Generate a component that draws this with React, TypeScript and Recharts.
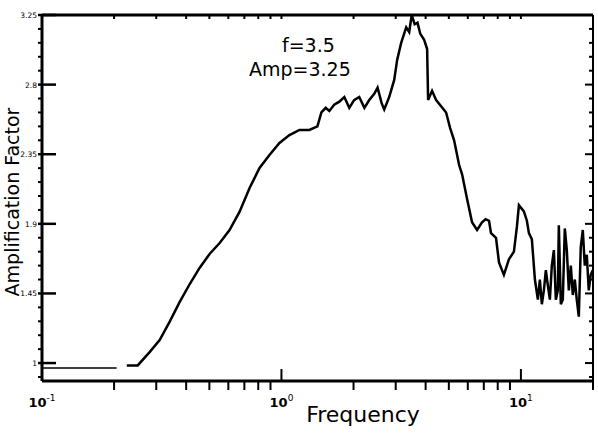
import React from 'react';
import { LineChart, Line, XAxis, YAxis } from 'recharts';

// frequency (Hz) and amplification
const baseFreq = [0.1, 0.205];
const baseAmp = [0.968, 0.968];

const freq = [
  0.226, 0.251, 0.282, 0.31, 0.341, 0.376, 0.414, 0.455, 0.501, 0.552, 0.607, 0.668, 0.736, 0.81, 0.891,
  0.981, 1.08, 1.189, 1.308, 1.413, 1.468, 1.53, 1.585, 1.66, 1.745, 1.83, 1.92, 2.01, 2.113, 2.22, 2.326,
  2.441, 2.52, 2.62, 2.687, 2.818, 2.957, 3.042, 3.162, 3.318, 3.415, 3.5, 3.6, 3.7, 3.797, 3.944, 4.058,
  4.097, 4.256, 4.424, 4.642, 4.87, 5.06, 5.26, 5.52, 5.68, 5.96, 6.25, 6.56, 6.88, 7.12, 7.36, 7.5, 7.87,
  8.1, 8.49, 8.91, 9.35, 9.62, 9.81, 10.29, 10.59, 10.8, 11.11, 11.44, 11.77, 12.0, 12.23, 12.47, 12.71,
  12.96, 13.21, 13.46, 13.73, 13.99, 14.26, 14.4, 14.68, 14.96, 15.25, 15.55, 15.85, 16.16, 16.47, 16.79,
  17.11, 17.45, 17.78, 18.13, 18.48, 18.84, 19.2, 19.57, 19.95,
];
const amp = [
  0.985, 0.985, 1.072, 1.149, 1.266, 1.395, 1.511, 1.615, 1.705, 1.776, 1.86, 1.977, 2.132, 2.261, 2.345,
  2.423, 2.474, 2.507, 2.507, 2.53, 2.62, 2.65, 2.63, 2.67, 2.69, 2.72, 2.65, 2.7, 2.72, 2.65, 2.7,
  2.74, 2.78, 2.68, 2.64, 2.72, 2.83, 2.96, 3.07, 3.17, 3.14, 3.25, 3.19, 3.2, 3.13, 3.09, 3.03,
  2.7, 2.76, 2.7, 2.66, 2.62, 2.52, 2.44, 2.28, 2.22, 2.06, 1.91, 1.86, 1.91, 1.93, 1.92, 1.84, 1.81,
  1.65, 1.57, 1.67, 1.72, 1.88, 2.02, 1.98, 1.92, 1.84, 1.8, 1.54, 1.41, 1.54, 1.38, 1.47, 1.6,
  1.5, 1.41, 1.63, 1.73, 1.41, 1.47, 1.89, 1.38, 1.41, 1.87, 1.73, 1.47, 1.63, 1.44, 1.54,
  1.41, 1.3, 1.75, 1.86, 1.63, 1.7, 1.47, 1.57, 1.6,
];

const xMajor = [0.1, 1, 10];
const xExponents = ['-1', '0', '1'];
const xMinor = [0.2, 0.3, 0.4, 0.5, 0.6, 0.7, 0.8, 0.9, 2, 3, 4, 5, 6, 7, 8, 9, 20];
const yMajor = [1, 1.45, 1.9, 2.35, 2.8, 3.25];
const yMinorStep = 0.09;

const xTicks = [...xMajor, ...xMinor].sort((a, b) => a - b);
const yTicks: number[] = [0.91];
for (let i = 0; i < yMajor.length - 1; i++) {
  for (let k = 0; k < 5; k++) yTicks.push(+(yMajor[i] + k * yMinorStep).toFixed(2));
}
yTicks.push(yMajor[yMajor.length - 1]);

const data = [
  ...baseFreq.map((f, i) => ({ f, base: baseAmp[i], amp: null as number | null })),
  { f: 0.215, base: null, amp: null },
  ...freq.map((f, i) => ({ f, base: null as number | null, amp: amp[i] })),
];

const FONT = '"DejaVu Sans", Verdana, sans-serif';
const isMajorY = (v: number) => yMajor.some((m) => Math.abs(m - v) < 1e-6);

const BottomTick = ({ x, y, payload }: any) => {
  const idx = xMajor.indexOf(payload.value);
  if (idx < 0) {
    return <line x1={x} x2={x} y1={y} y2={y + 9} stroke="#000" strokeWidth={2} />;
  }
  return (
    <g>
      <line x1={x} x2={x} y1={y - 12} y2={y} stroke="#000" strokeWidth={2} />
      <text x={x} y={y + 26} textAnchor="middle" fontFamily={FONT} fontSize={13} fontWeight="bold" fill="#000">
        10<tspan dy={-6} fontSize={9} fontWeight="normal">{xExponents[idx]}</tspan>
      </text>
    </g>
  );
};

const TopTick = ({ x, y }: any) => (
  <line x1={x} x2={x} y1={y} y2={y + 4} stroke="#000" strokeWidth={2} />
);

const LeftTick = ({ x, y, payload }: any) => {
  const v = payload.value;
  if (!isMajorY(v)) {
    return <line x1={x - 4} x2={x} y1={y} y2={y} stroke="#000" strokeWidth={2} />;
  }
  return (
    <g>
      <line x1={x - 4} x2={x + 14} y1={y} y2={y} stroke="#000" strokeWidth={2.5} />
      <text x={x - 5} y={y + 3} textAnchor="end" fontFamily={FONT} fontSize={7.5} fill="#000">
        {String(v)}
      </text>
    </g>
  );
};

const RightTick = ({ x, y, payload }: any) => (
  <line x1={x - (isMajorY(payload.value) ? 8 : 4)} x2={x} y1={y} y2={y} stroke="#000" strokeWidth={2} />
);

export default function App() {
  return (
    <div style={{ position: 'absolute', left: 0, top: 0, width: 598, height: 434, background: '#fff' }}>
      <LineChart width={598} height={434} data={data} margin={{ top: 0, right: 0, bottom: 23, left: 12 }}>
        <XAxis
          dataKey="f"
          type="number"
          scale="log"
          domain={[0.1, 20]}
          allowDataOverflow
          ticks={xTicks}
          interval={0}
          height={30}
          tickSize={0}
          tickMargin={0}
          tick={BottomTick}
          axisLine={{ stroke: '#000', strokeWidth: 3 }}
        />
        <XAxis
          xAxisId="top"
          orientation="top"
          dataKey="f"
          type="number"
          scale="log"
          domain={[0.1, 20]}
          allowDataOverflow
          ticks={xTicks}
          interval={0}
          height={15}
          tickSize={0}
          tickMargin={0}
          tick={TopTick}
          axisLine={{ stroke: '#000', strokeWidth: 3 }}
        />
        <YAxis
          type="number"
          domain={[0.884, 3.25]}
          allowDataOverflow
          ticks={yTicks}
          interval={0}
          width={30}
          tickSize={0}
          tickMargin={0}
          tick={LeftTick}
          axisLine={{ stroke: '#000', strokeWidth: 3 }}
        />
        <YAxis
          yAxisId="right"
          orientation="right"
          type="number"
          domain={[0.884, 3.25]}
          allowDataOverflow
          ticks={yTicks}
          interval={0}
          width={5}
          tickSize={0}
          tickMargin={0}
          tick={RightTick}
          axisLine={{ stroke: '#000', strokeWidth: 2 }}
        />
        <Line dataKey="base" type="linear" stroke="#000" strokeWidth={1.5} dot={false} isAnimationActive={false} />
        <Line dataKey="amp" type="linear" stroke="#000" strokeWidth={2.5} dot={false} isAnimationActive={false} />
      </LineChart>
      <div style={{ position: 'absolute', left: 282, top: 33, fontFamily: FONT, fontSize: 19, lineHeight: '24px', color: '#000' }}>
        f=3.5
      </div>
      <div style={{ position: 'absolute', left: 249, top: 57, fontFamily: FONT, fontSize: 19, lineHeight: '24px', color: '#000' }}>
        Amp=3.25
      </div>
      <div style={{ position: 'absolute', left: 263, top: 402, width: 200, textAlign: 'center', fontFamily: FONT, fontSize: 22, color: '#000' }}>
        Frequency
      </div>
      <div
        style={{
          position: 'absolute',
          left: 12,
          top: 202,
          transform: 'translate(-50%, -50%) rotate(-90deg)',
          whiteSpace: 'nowrap',
          fontFamily: FONT,
          fontSize: 19,
          color: '#000',
        }}
      >
        Amplification Factor
      </div>
    </div>
  );
}
